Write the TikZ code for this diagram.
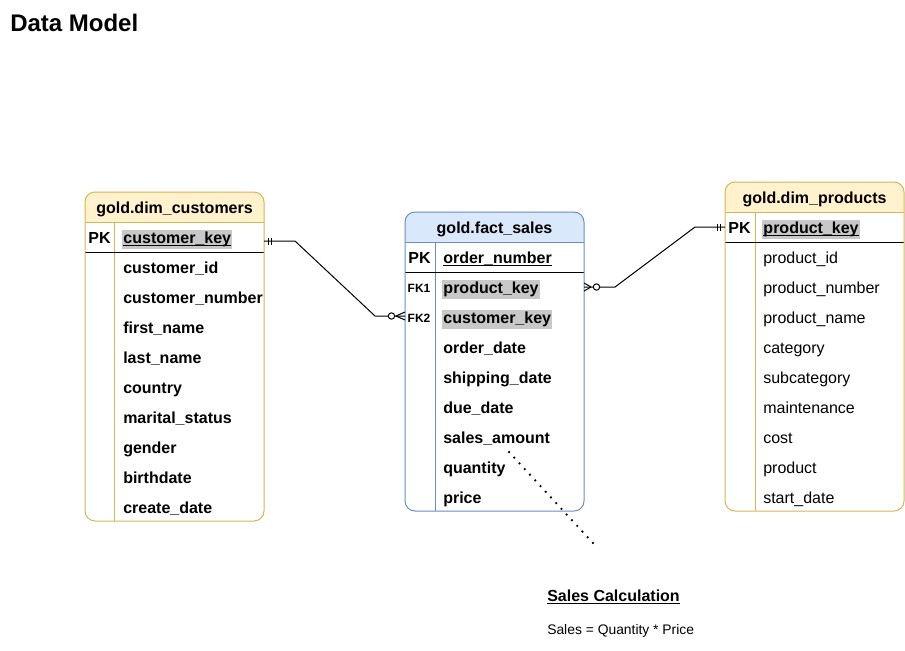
\documentclass[tikz,border=0pt]{standalone}
\usepackage{fontspec}
\setmainfont{Liberation Sans}
\usetikzlibrary{calc}
\newsavebox{\myulbox}
\newcommand{\myul}[1]{\sbox{\myulbox}{#1}\rlap{\rule[-1.9pt]{\wd\myulbox}{0.75pt}}\usebox{\myulbox}}
\definecolor{yfill}{HTML}{FFF2CC}
\definecolor{ydraw}{HTML}{D6B656}
\definecolor{bfill}{HTML}{DAE8FC}
\definecolor{bdraw}{HTML}{6C8EBF}
\definecolor{hl}{HTML}{C8C8C8}
\tikzset{
  ftxt/.style={anchor=base west, inner sep=0pt, font=\fontsize{12pt}{14pt}\selectfont},
  fbold/.style={anchor=base west, inner sep=0pt, font=\fontsize{12pt}{14pt}\selectfont\bfseries},
  hlbox/.style={fill=hl, inner xsep=0.9pt, inner ysep=1.2pt, text height=8.8pt, text depth=2.6pt},
  pklbl/.style={anchor=base, inner sep=0pt, font=\fontsize{12pt}{14pt}\selectfont\bfseries},
  fklbl/.style={anchor=base, inner sep=0pt, font=\fontsize{9pt}{11pt}\selectfont\bfseries},
  hdr/.style={anchor=base, inner sep=0pt, font=\fontsize{12pt}{14pt}\selectfont\bfseries},
  conn/.style={line width=0.75pt, black},
  tblline/.style={line width=0.75pt},
}
% left, top, right, bottom, fill, draw, divider x
\newcommand{\erframe}[7]{%
  \begin{scope}
    \clip[rounded corners=7.5pt] (#1,#2) rectangle (#3,#4);
    \fill[#5] (#1,#2) rectangle (#3,#2+30);
  \end{scope}
  \draw[tblline,#6] (#7,#2+30) -- (#7,#4);
  \draw[tblline,#6] (#1,#2+30) -- (#3,#2+30);
  \draw[tblline,black] (#1,#2+60) -- (#3,#2+60);
  \draw[tblline,#6,rounded corners=7.5pt] (#1,#2) rectangle (#3,#4);
}
\begin{document}
\begin{tikzpicture}[x=0.75pt,y=-0.75pt]
\useasboundingbox (0,0) rectangle (905,650);

% Title
\node[anchor=base west, inner sep=0pt, font=\fontsize{18pt}{21pt}\selectfont\bfseries] (title) at (10,31) {Data Model};

% ---------- gold.dim_customers ----------
\erframe{85}{192}{264}{521}{yfill}{ydraw}{114}
\node[hdr] (cust-h) at (174.5,213.5) {gold.dim\_customers};
\node[pklbl] (cust-pk) at (99.5,243.5) {PK};
\node[fbold,hlbox] (cust-r0) at (122,243.5) {\myul{customer\_key}};
\foreach \t [count=\i] in {customer\_id,customer\_number,first\_name,last\_name,country,marital\_status,gender,birthdate,create\_date}
  \node[fbold] (cust-r\i) at (123,243.5+30*\i) {\t};

% ---------- gold.fact_sales ----------
\erframe{405}{212}{584}{511}{bfill}{bdraw}{435}
\node[hdr] (fact-h) at (494.5,233.5) {gold.fact\_sales};
\node[pklbl] (fact-pk) at (419.5,263.5) {PK};
\node[fbold] (fact-r0) at (443,263.5) {\myul{order\_number}};
\node[fklbl] (fact-fk1) at (419,292.5) {FK1};
\node[fklbl] (fact-fk2) at (419,322.5) {FK2};
\node[fbold,hlbox] (fact-r1) at (442,293.5) {product\_key};
\node[fbold,hlbox] (fact-r2) at (442,323.5) {customer\_key};
\foreach \t [count=\i from 3] in {order\_date,shipping\_date,due\_date,sales\_amount,quantity,price}
  \node[fbold] (fact-r\i) at (443,263.5+30*\i) {\t};

% ---------- gold.dim_products ----------
\erframe{725}{182}{904}{511}{yfill}{ydraw}{755}
\node[hdr] (prod-h) at (814.5,203.5) {gold.dim\_products};
\node[pklbl] (prod-pk) at (739.5,233.5) {PK};
\node[fbold,hlbox] (prod-r0) at (762,233.5) {\myul{product\_key}};
\foreach \t [count=\i] in {product\_id,product\_number,product\_name,category,subcategory,maintenance,cost,product,start\_date}
  \node[ftxt] (prod-r\i) at (763,233.5+30*\i) {\t};

% ---------- connectors ----------
\coordinate (cpk) at (264,241);
\coordinate (ffk2) at (405,316);
\coordinate (ffk1) at (584,287);
\coordinate (ppk) at (725,227);

% customers (one) -> fact_sales (zero or many)
\draw[conn] (cpk) -- ++(31,0) -- ++(80,75) -- (ffk2);
\draw[conn] ($(cpk)+(4,-3.5)$) -- ++(0,7);
\draw[conn] ($(cpk)+(7,-3.5)$) -- ++(0,7);
\draw[conn] ($(ffk2)+(-9,0)$) -- ($(ffk2)+(0,-4)$);
\draw[conn] ($(ffk2)+(-9,0)$) -- ($(ffk2)+(0,4)$);
\draw[conn,fill=white] ($(ffk2)+(-13.5,0)$) circle (2.4pt);

% fact_sales (zero or many) -> products (one)
\draw[conn] (ffk1) -- ++(31,0) -- ++(80,-60) -- (ppk);
\draw[conn] ($(ppk)+(-8,-3.5)$) -- ++(0,7);
\draw[conn] ($(ppk)+(-5,-3.5)$) -- ++(0,7);
\draw[conn] ($(ffk1)+(7,0)$) -- ($(ffk1)+(0,-4)$);
\draw[conn] ($(ffk1)+(7,0)$) -- ($(ffk1)+(0,4)$);
\draw[conn,fill=white] ($(ffk1)+(12.5,0)$) circle (2.4pt);

% dotted note line
\coordinate (dotA) at (509,452);
\coordinate (dotB) at (593,543);
\draw[line width=1.9pt, line cap=round, dash pattern=on 0pt off 5.8pt] (dotA) -- (dotB);

% note
\node[anchor=base west, inner sep=0pt, font=\fontsize{12pt}{14pt}\selectfont\bfseries] (note-h) at (547,601) {\myul{Sales Calculation}};
\node[anchor=base west, inner sep=0pt, font=\fontsize{10.4pt}{12pt}\selectfont] (note-t) at (547,634) {Sales = Quantity * Price};
\end{tikzpicture}
\end{document}
